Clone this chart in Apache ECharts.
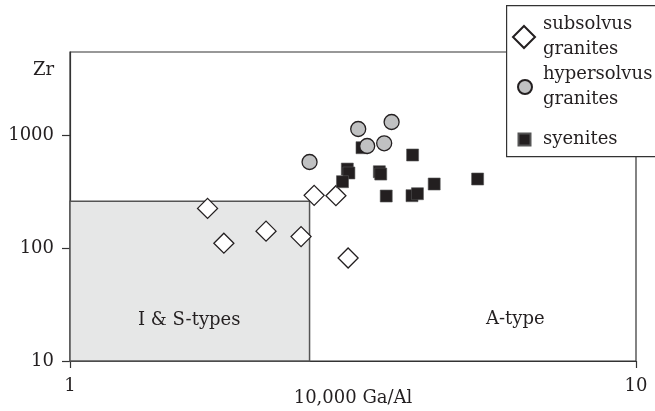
<!DOCTYPE html>
<html>
<head>
<meta charset="utf-8">
<script src="https://cdn.jsdelivr.net/npm/echarts@6/dist/echarts.min.js"></script>
<style>html,body{margin:0;padding:0;background:#fff}#c{width:655px;height:411px}</style>
</head>
<body>
<div id="c"></div>
<script>
// ---- data ----
const subsolvusX = [1.75, 1.87, 2.22, 2.56, 2.70, 2.95, 3.10];
const subsolvusY = [226, 111, 142, 127, 295, 293, 82];
const hypersolvusX = [2.65, 3.23, 3.35, 3.59, 3.70];
const hypersolvusY = [583, 1145, 809, 855, 1320];
const syenitesX = [3.09, 3.11, 3.03, 3.28, 3.52, 3.54, 4.03, 3.62, 4.02, 4.11, 4.40, 5.25];
const syenitesY = [505, 466, 390, 781, 478, 456, 673, 291, 293, 305, 372, 412];
const boxCorner = [2.65, 262];        // I & S-type field: x 1..2.65, Zr 10..262
const xTicks = [1, 10];
const yTicks = [10, 100, 1000];
const xRange = [1, 10];
const yRange = [10, 5520];

const pair = (xs, ys) => xs.map((x, i) => [x, ys[i]]);
const FONT = 'DejaVu Serif';
const TXT = '#231f20';
const fmt = v => String(Math.round(v));

const chart = echarts.init(document.getElementById('c'));
chart.setOption({
  animation: false,
  backgroundColor: '#fff',
  grid: { left: 70, right: 19, top: 52, bottom: 50, show: true, borderColor: '#333', borderWidth: 1.2,
          backgroundColor: 'transparent', outerBoundsMode: 'none', containLabel: false },
  xAxis: {
    type: 'log', logBase: 10, min: xRange[0], max: xRange[1],
    name: '10,000 Ga/Al', nameLocation: 'middle', nameGap: 28, nameMoveOverlap: false,
    nameTextStyle: { fontFamily: FONT, fontSize: 18, color: TXT },
    axisLine: { lineStyle: { color: '#333', width: 1.2 } },
    axisTick: { show: true, length: 7, lineStyle: { color: '#333', width: 1.2 }, customValues: xTicks },
    axisLabel: { fontFamily: FONT, fontSize: 18, color: TXT, margin: 16, customValues: xTicks, formatter: fmt },
    splitLine: { show: false }, minorTick: { show: false }
  },
  yAxis: {
    type: 'log', logBase: 10, min: yRange[0], max: yRange[1],
    axisLine: { show: true, lineStyle: { color: '#333', width: 1.2 } },
    axisTick: { show: true, length: 8, lineStyle: { color: '#333', width: 1.2 }, customValues: yTicks },
    axisLabel: { fontFamily: FONT, fontSize: 18, color: TXT, margin: 16, customValues: yTicks, formatter: fmt },
    splitLine: { show: false }
  },
  legend: [
    { data: ['subsolvus granites'], left: 512, top: 9.5, orient: 'vertical', padding: 0, itemWidth: 22, itemHeight: 22, z: 10,
      formatter: () => 'subsolvus\ngranites',
      textStyle: { fontFamily: FONT, fontSize: 18, color: TXT, lineHeight: 25, padding: [5, 0, 0, 3] } },
    { data: ['hypersolvus granites'], left: 517, top: 60, orient: 'vertical', padding: 0, itemWidth: 14, itemHeight: 14, z: 10,
      formatter: () => 'hypersolvus\ngranites',
      textStyle: { fontFamily: FONT, fontSize: 18, color: TXT, lineHeight: 25, padding: [4, 0, 0, 6] } },
    { data: ['syenites'], left: 517.5, top: 127, orient: 'vertical', padding: 0, itemWidth: 12, itemHeight: 12, z: 10,
      textStyle: { fontFamily: FONT, fontSize: 18, color: TXT, lineHeight: 25, padding: [0, 0, 0, 7.5] } }
  ],
  graphic: [
    { type: 'rect', left: 506, top: 5, z: 3, shape: { width: 200, height: 151 }, style: { fill: '#fff', stroke: '#333', lineWidth: 1.2 } },
    { type: 'text', left: 33, top: 61, z: 3, style: { text: 'Zr', font: '18px "DejaVu Serif"', fill: TXT } },
    { type: 'text', left: 138, top: 311, z: 3, style: { text: 'I & S-types', font: '18px "DejaVu Serif"', fill: TXT } },
    { type: 'text', left: 486, top: 310, z: 3, style: { text: 'A-type', font: '18px "DejaVu Serif"', fill: TXT } }
  ],
  series: [
    { name: 'field', type: 'scatter', data: [], z: 1, silent: true,
      markArea: { silent: true, itemStyle: { color: '#e6e7e7', borderColor: '#555', borderWidth: 1.5 },
        data: [[{ coord: [xRange[0], yRange[0]] }, { coord: boxCorner }]] } },
    { name: 'subsolvus granites', type: 'scatter', z: 3, symbol: 'diamond', symbolSize: 20,
      itemStyle: { color: '#fff', borderColor: '#231f20', borderWidth: 1.3, opacity: 1 },
      data: pair(subsolvusX, subsolvusY) },
    { name: 'syenites', type: 'scatter', z: 4, symbol: 'rect', symbolSize: 12,
      itemStyle: { color: '#231f20', borderColor: '#555', borderWidth: 0.6, opacity: 1 },
      data: pair(syenitesX, syenitesY) },
    { name: 'hypersolvus granites', type: 'scatter', z: 5, symbol: 'circle', symbolSize: 15,
      itemStyle: { color: '#c0c1c2', borderColor: '#231f20', borderWidth: 1.3, opacity: 1 },
      data: pair(hypersolvusX, hypersolvusY) }
  ]
});
</script>
</body>
</html>
